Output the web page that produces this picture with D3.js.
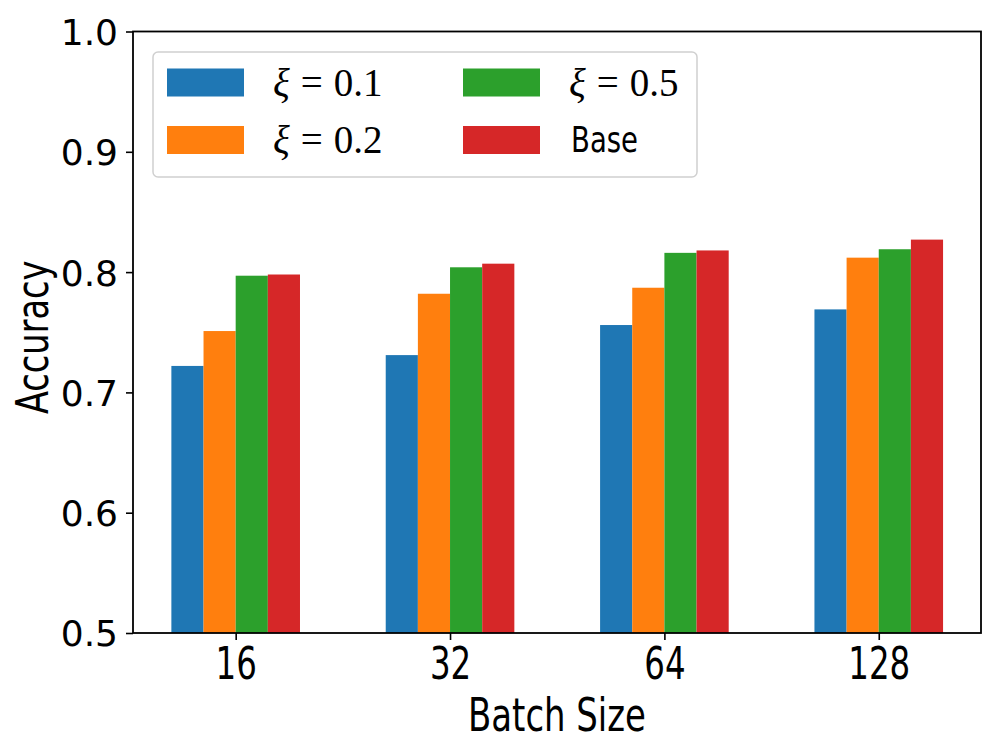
<!DOCTYPE html>
<html><head><meta charset="utf-8">
<script src="https://cdn.jsdelivr.net/npm/d3@7"></script>
<style>body{margin:0;background:#fff}</style>
</head><body>
<svg id="c" width="997" height="752"></svg>
<script>
const categories = ["16","32","64","128"];
const xi01 = [0.722, 0.731, 0.756, 0.769];
const xi02 = [0.751, 0.782, 0.787, 0.812];
const xi05 = [0.797, 0.804, 0.816, 0.819];
const base = [0.798, 0.807, 0.818, 0.827];
const yTicks = [0.5, 0.6, 0.7, 0.8, 0.9, 1.0];
const legendLabels = ["0.1", "0.2", "0.5", "Base"];
const colors = ["#1f77b4","#ff7f0e","#2ca02c","#d62728"];
const series = [xi01, xi02, xi05, base];

const svg = d3.select("#c");
const L = 133, R = 981, T = 31.5, B = 633;
const x = d3.scaleLinear().domain([-0.479, 3.477]).range([L, R]);
const y = d3.scaleLinear().domain([0.5, 1.0]).range([B, T]);
const bw = 0.15;
const sansC = "DejaVu Sans Condensed, DejaVu Sans";

series.forEach((s, si) => {
  svg.append("g").selectAll("rect").data(s).join("rect")
    .attr("x", (d, i) => x(i + (si - 2) * bw))
    .attr("width", x(bw) - x(0))
    .attr("y", d => y(d))
    .attr("height", d => B - y(d))
    .attr("fill", colors[si]);
});

// axes
const yAxis = d3.axisLeft(y).tickValues(yTicks).tickFormat(d3.format(".1f")).tickSize(7).tickPadding(8);
const gy = svg.append("g").attr("transform", `translate(${L},0)`).call(yAxis);
gy.select(".domain").remove();
gy.selectAll("line").attr("stroke", "#000").attr("stroke-width", 1.6);
gy.selectAll("text").attr("font-family", "DejaVu Sans").attr("font-size", 36).attr("fill", "#000").attr("dy", "0.36em");

const xAxis = d3.axisBottom(x).tickValues(d3.range(categories.length)).tickFormat(i => categories[i]).tickSize(7).tickPadding(6);
const gx = svg.append("g").attr("transform", `translate(0,${B})`).call(xAxis);
gx.select(".domain").remove();
gx.selectAll("line").attr("stroke", "#000").attr("stroke-width", 1.6);
gx.selectAll("text").text(null);
gx.selectAll(".tick").append("text")
  .attr("transform", "translate(0,46) scale(0.82,1)")
  .attr("text-anchor", "middle").attr("font-family", sansC).attr("font-size", 44).attr("fill", "#000")
  .text(i => categories[i]);

svg.append("rect").attr("x", L).attr("y", T).attr("width", R - L).attr("height", B - T)
  .attr("fill", "none").attr("stroke", "#000").attr("stroke-width", 1.8);

svg.append("text").attr("transform", `translate(${(L + R) / 2},731) scale(0.82,1)`).attr("text-anchor", "middle")
  .attr("font-family", sansC).attr("font-size", 46).text("Batch Size");
svg.append("text").attr("transform", `translate(48,${(T + B) / 2 + 5}) rotate(-90) scale(0.85,1)`).attr("text-anchor", "middle")
  .attr("font-family", sansC).attr("font-size", 44).text("Accuracy");

// legend
const lg = svg.append("g");
lg.append("rect").attr("x", 153).attr("y", 52).attr("width", 544).attr("height", 125).attr("rx", 5)
  .attr("fill", "#fff").attr("fill-opacity", 0.8).attr("stroke", "#d0d0d0").attr("stroke-width", 1.5);
legendLabels.forEach((lab, i) => {
  const col = Math.floor(i / 2), row = i % 2;
  const px = col === 0 ? 167 : 463;
  const py = row === 0 ? 68.5 : 126;
  lg.append("rect").attr("x", px).attr("y", py).attr("width", 77).attr("height", 28).attr("fill", colors[i]);
  const tx = px + 106;
  const ty = py + 27;
  if (lab !== "Base") {
    const t = lg.append("text").attr("x", tx).attr("y", ty).attr("font-family", "Liberation Serif, DejaVu Serif").attr("font-size", 39);
    t.append("tspan").attr("font-style", "italic").text("ξ");
    t.append("tspan").attr("dx", 11).text("=");
    t.append("tspan").attr("dx", 11).text(lab);
  } else {
    lg.append("text").attr("transform", `translate(${tx + 2},${ty - 1}) scale(0.85,1)`)
      .attr("font-family", sansC).attr("font-size", 36).text("Base");
  }
});
</script>
</body></html>
